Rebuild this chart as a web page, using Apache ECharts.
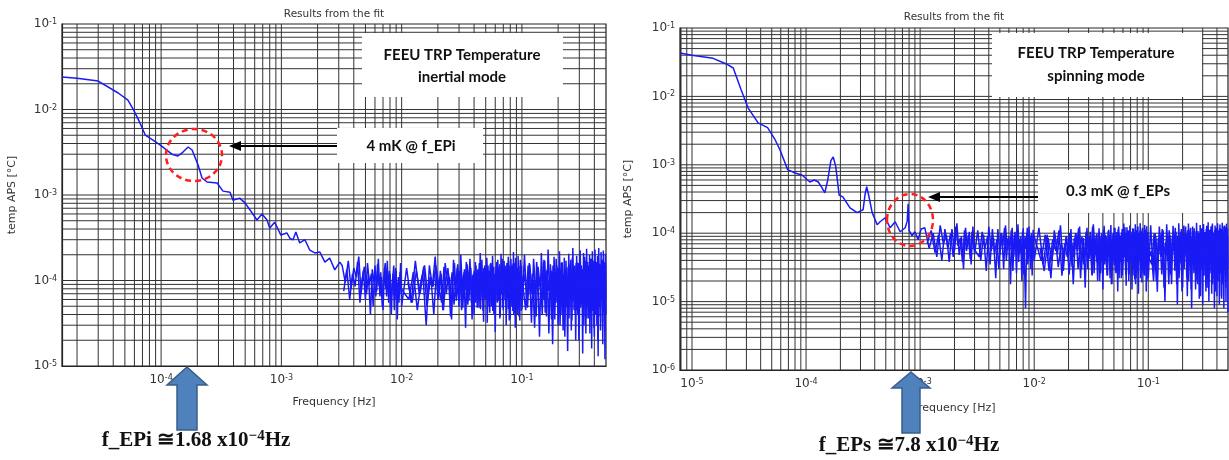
<!DOCTYPE html>
<html>
<head>
<meta charset="utf-8">
<script src="https://cdn.jsdelivr.net/npm/echarts@6/dist/echarts.min.js"></script>
<style>
html, body { margin: 0; padding: 0; background: #fff; }
#main { width: 1229px; height: 460px; }
</style>
</head>
<body>
<div id="main"></div>
<script>
// ---- data ----
// inertial mode: low frequency trend (Hz, degC)
const leftTrendFreq = [1.5e-5, 2.0e-5, 3.0e-5, 4.4e-5, 5.3e-5, 5.9e-5, 6.6e-5, 7.4e-5, 8.5e-5, 9.8e-5,
	1.1e-4, 1.23e-4, 1.38e-4, 1.52e-4, 1.68e-4, 1.81e-4, 2.03e-4, 2.19e-4, 2.41e-4, 2.92e-4,
	3.27e-4, 3.74e-4, 3.96e-4, 4.5e-4, 4.98e-4, 5.7e-4, 6.26e-4, 6.9e-4, 7.6e-4, 8.0e-4,
	8.8e-4, 9.9e-4, 1.11e-3, 1.18e-3, 1.25e-3, 1.32e-3, 1.42e-3, 1.57e-3, 1.72e-3, 1.9e-3,
	2.09e-3, 2.3e-3, 2.52e-3, 2.78e-3, 3.06e-3];
const leftTrendAps = [0.024, 0.0232, 0.0215, 0.0156, 0.0129, 0.0099, 0.0072, 0.0050, 0.0044, 0.00385,
	0.0034, 0.0030, 0.00286, 0.00318, 0.00364, 0.00336, 0.00224, 0.00158, 0.00142, 0.00138,
	0.00111, 0.00108, 0.00087, 0.00092, 0.00081, 0.00062, 0.00051, 0.0006, 0.00051, 0.00041,
	0.00048, 0.00034, 0.00036, 0.00031, 0.0003, 0.00037, 0.000275, 0.0003, 0.000227, 0.00021,
	0.000215, 0.000164, 0.000183, 0.000133, 0.000164];

// spinning mode: low frequency trend (Hz, degC)
const rightTrendFreq = [7.85e-6, 1.0e-5, 1.53e-5, 2.0e-5, 2.3e-5, 2.7e-5, 3.1e-5, 3.8e-5, 4.6e-5, 5.3e-5,
	5.9e-5, 6.9e-5, 8.0e-5, 9.2e-5, 1.08e-4, 1.18e-4, 1.28e-4, 1.38e-4, 1.46e-4, 1.55e-4,
	1.65e-4, 1.73e-4, 1.82e-4, 1.95e-4, 2.1e-4, 2.43e-4, 2.8e-4, 3.16e-4, 3.3e-4, 3.4e-4,
	3.55e-4, 3.8e-4, 4.2e-4, 4.46e-4, 4.93e-4, 5.46e-4, 6.04e-4, 6.68e-4, 7.4e-4, 7.7e-4,
	7.85e-4, 8.0e-4, 8.5e-4, 9.0e-4, 9.6e-4, 1.02e-3];
const rightTrendAps = [0.043, 0.040, 0.036, 0.0298, 0.026, 0.0124, 0.0068, 0.0041, 0.0035, 0.0024,
	0.00166, 0.00085, 0.00076, 0.00071, 0.00056, 0.0006, 0.00056, 0.00046, 0.00039, 0.0006,
	0.00115, 0.0013, 0.00095, 0.00036, 0.00034, 0.000235, 0.0002, 0.00022, 0.00038, 0.00048,
	0.00035, 0.0002, 0.000133, 0.000147, 0.000168, 0.00012, 0.000147, 0.000105, 0.00012, 0.00015,
	0.00027, 0.00011, 0.000092, 0.000105, 0.00008, 0.000115];

// noise floor, frequency in mHz (three interleaved passes)
const noiseFreqMHz = [3.2, 3.4, 3.6, 3.8, 4.0, 4.2, 4.4, 4.6, 4.8, 5.0, 5.2, 5.4, 5.6, 5.8, 6.0, 6.2, 6.4, 6.6, 6.8, 7.0,
	7.2, 7.4, 7.6, 7.8, 8.0, 8.2, 8.4, 8.6, 8.8, 9.0, 9.2, 9.4, 9.6, 9.8, 10,
	11, 12, 13, 14, 15, 16, 17, 18, 19, 20, 21, 22, 23, 24, 25, 26, 27, 28, 29, 30,
	31, 32, 33, 34, 35, 36, 37, 38, 39, 40, 41, 42, 43, 44, 45, 46, 47, 48, 49, 50,
	51, 52, 53, 54, 55, 56, 57, 58, 59, 60, 61, 62, 63, 64, 65, 66, 67, 68, 69, 70,
	71, 72, 73, 74, 75, 76, 77, 78, 79, 80, 81, 82, 83, 84, 85, 86, 87, 88, 89, 90,
	91, 92, 93, 94, 95, 96, 97, 98, 99, 100,
	105, 110, 115, 120, 125, 130, 135, 140, 145, 150, 155, 160, 165, 170, 175, 180, 185, 190, 195, 200,
	205, 210, 215, 220, 225, 230, 235, 240, 245, 250, 255, 260, 265, 270, 275, 280, 285, 290, 295, 300,
	305, 310, 315, 320, 325, 330, 335, 340, 345, 350, 355, 360, 365, 370, 375, 380, 385, 390, 395, 400,
	405, 410, 415, 420, 425, 430, 435, 440, 445, 450, 455, 460, 465, 470, 475, 480, 485, 490, 495, 500];
const noiseFreq2MHz = [3.3, 3.5, 3.7, 3.9, 4.1, 4.3, 4.5, 4.7, 4.9, 5.1, 5.3, 5.5, 5.7, 5.9, 6.1, 6.3, 6.5, 6.7, 6.9, 7.1,
	7.3, 7.5, 7.7, 7.9, 8.1, 8.3, 8.5, 8.7, 8.9, 9.1, 9.3, 9.5, 9.7, 9.9,
	11.5, 12.5, 13.5, 14.5, 15.5, 16.5, 17.5, 18.5, 19.5, 20.5, 21.5, 22.5, 23.5, 24.5, 25.5, 26.5, 27.5, 28.5, 29.5, 30.5,
	31.5, 32.5, 33.5, 34.5, 35.5, 36.5, 37.5, 38.5, 39.5, 40.5, 41.5, 42.5, 43.5, 44.5, 45.5, 46.5, 47.5, 48.5, 49.5, 50.5,
	51.5, 52.5, 53.5, 54.5, 55.5, 56.5, 57.5, 58.5, 59.5, 60.5, 61.5, 62.5, 63.5, 64.5, 65.5, 66.5, 67.5, 68.5, 69.5, 70.5,
	71.5, 72.5, 73.5, 74.5, 75.5, 76.5, 77.5, 78.5, 79.5, 80.5, 81.5, 82.5, 83.5, 84.5, 85.5, 86.5, 87.5, 88.5, 89.5, 90.5,
	91.5, 92.5, 93.5, 94.5, 95.5, 96.5, 97.5, 98.5, 99.5,
	107.5, 112.5, 117.5, 122.5, 127.5, 132.5, 137.5, 142.5, 147.5, 152.5, 157.5, 162.5, 167.5, 172.5, 177.5, 182.5, 187.5, 192.5, 197.5, 202.5,
	207.5, 212.5, 217.5, 222.5, 227.5, 232.5, 237.5, 242.5, 247.5, 252.5, 257.5, 262.5, 267.5, 272.5, 277.5, 282.5, 287.5, 292.5, 297.5, 302.5,
	307.5, 312.5, 317.5, 322.5, 327.5, 332.5, 337.5, 342.5, 347.5, 352.5, 357.5, 362.5, 367.5, 372.5, 377.5, 382.5, 387.5, 392.5, 397.5, 402.5,
	407.5, 412.5, 417.5, 422.5, 427.5, 432.5, 437.5, 442.5, 447.5, 452.5, 457.5, 462.5, 467.5, 472.5, 477.5, 482.5, 487.5, 492.5, 497.5];
const noiseFreq3MHz = [11.25, 12.25, 13.25, 14.25, 15.25, 16.25, 17.25, 18.25, 19.25, 20.25, 21.25, 22.25, 23.25, 24.25, 25.25,
	26.25, 27.25, 28.25, 29.25, 30.25, 31.25, 32.25, 33.25, 34.25, 35.25, 36.25, 37.25, 38.25, 39.25, 40.25,
	41.25, 42.25, 43.25, 44.25, 45.25, 46.25, 47.25, 48.25, 49.25, 50.25, 51.25, 52.25, 53.25, 54.25, 55.25,
	56.25, 57.25, 58.25, 59.25, 60.25, 61.25, 62.25, 63.25, 64.25, 65.25, 66.25, 67.25, 68.25, 69.25, 70.25,
	71.25, 72.25, 73.25, 74.25, 75.25, 76.25, 77.25, 78.25, 79.25, 80.25, 81.25, 82.25, 83.25, 84.25, 85.25,
	86.25, 87.25, 88.25, 89.25, 90.25, 91.25, 92.25, 93.25, 94.25, 95.25, 96.25, 97.25, 98.25, 99.25,
	106.25, 111.25, 116.25, 121.25, 126.25, 131.25, 136.25, 141.25, 146.25, 151.25, 156.25, 161.25, 166.25, 171.25, 176.25,
	181.25, 186.25, 191.25, 196.25, 201.25, 206.25, 211.25, 216.25, 221.25, 226.25, 231.25, 236.25, 241.25, 246.25, 251.25,
	256.25, 261.25, 266.25, 271.25, 276.25, 281.25, 286.25, 291.25, 296.25, 301.25, 306.25, 311.25, 316.25, 321.25, 326.25,
	331.25, 336.25, 341.25, 346.25, 351.25, 356.25, 361.25, 366.25, 371.25, 376.25, 381.25, 386.25, 391.25, 396.25, 401.25,
	406.25, 411.25, 416.25, 421.25, 426.25, 431.25, 436.25, 441.25, 446.25, 451.25, 456.25, 461.25, 466.25, 471.25, 476.25,
	481.25, 486.25, 491.25, 496.25];
const rightLowNoiseFreqMHz = [1.1, 1.2, 1.3, 1.4, 1.5, 1.6, 1.7, 1.8, 1.9, 2.0, 2.1, 2.2, 2.3, 2.4, 2.5, 2.6, 2.7, 2.8, 2.9, 3.0];
const rightLowNoiseFreq2MHz = [1.15, 1.25, 1.35, 1.45, 1.55, 1.65, 1.75, 1.85, 1.95, 2.05, 2.15, 2.25, 2.35, 2.45, 2.55, 2.65, 2.75, 2.85, 2.95];

// noise amplitude in micro degC
const leftNoiseMicro = [150, 95, 170, 80, 140, 110, 190, 70, 130, 60, 160, 90, 120, 50, 150, 75, 180, 65, 110, 45,
	140, 80, 170, 55, 120, 40, 100, 150, 60, 130, 35, 110, 70, 160, 50,
	140, 55, 170, 70, 120, 30, 150, 85, 190, 60, 130, 45, 160, 95, 110, 35, 175, 65, 140, 50,
	200, 75, 125, 28, 155, 90, 180, 55, 115, 40, 165, 70, 135, 48, 210, 80, 120, 33, 150, 60,
	185, 95, 130, 42, 160, 72, 195, 50, 110, 25, 145, 85, 175, 58, 125, 38, 205, 68, 140, 45,
	170, 90, 115, 30, 160, 62, 190, 52, 130, 36, 180, 78, 150, 44, 215, 66, 120, 28, 165, 56,
	140, 40, 195, 74, 125, 34, 175, 60, 150, 46,
	200, 50, 160, 32, 180, 70, 140, 22, 210, 60, 170, 38, 230, 80, 130, 18, 190, 55, 150, 30,
	220, 72, 165, 26, 185, 48, 140, 15, 205, 64, 175, 34, 240, 58, 150, 20, 195, 45, 160, 28,
	225, 70, 135, 14, 210, 52, 170, 24, 235, 62, 150, 36, 200, 42, 180, 16, 220, 56, 145, 22,
	230, 68, 165, 30, 195, 13, 240, 50, 155, 26, 215, 60, 175, 18, 225, 44, 160, 12, 205, 40];
const leftNoise2Micro = [75, 135, 60, 120, 85, 165, 55, 105, 145, 70, 115, 40, 135, 95, 65, 155, 85, 125, 50, 105,
	160, 65, 95, 130, 48, 85, 120, 45, 140, 75, 95, 55, 125, 80,
	60, 125, 45, 100, 150, 65, 110, 40, 135, 80, 55, 145, 70, 120, 38, 100, 160, 58, 95, 130,
	45, 115, 75, 165, 52, 105, 140, 35, 120, 68, 150, 48, 98, 130, 62, 175, 44, 110, 82, 140,
	32, 125, 70, 155, 50, 100, 135, 40, 118, 85, 165, 55, 95, 145, 36, 120, 72, 180, 48, 105,
	130, 60, 150, 42, 112, 88, 170, 34, 125, 66, 140, 50, 100, 158, 40, 118, 76, 185, 46, 110,
	135, 58, 145, 38, 120, 82, 165, 44, 115,
	45, 150, 70, 120, 28, 165, 85, 110, 40, 175, 60, 135, 24, 155, 78, 125, 35, 180, 55, 140,
	30, 160, 68, 118, 22, 170, 50, 145, 82, 115, 26, 185, 58, 130, 40, 160, 72, 120, 20, 175,
	48, 150, 66, 135, 30, 190, 55, 125, 36, 165, 80, 110, 24, 180, 52, 140, 62, 155, 28, 170,
	44, 130, 70, 160, 20, 185, 58, 120, 38, 150, 66, 175, 32, 140, 50, 165, 26, 130, 60];
const leftNoise3Micro = [95, 55, 130, 70, 145, 50, 110, 85, 150, 60, 120, 45, 100, 140, 65, 125, 52, 90, 155, 75,
	105, 48, 135, 80, 115, 58, 148, 68, 98, 130, 55, 122, 88, 160, 46, 108, 72, 140, 62, 118,
	92, 150, 50, 128, 78, 110, 44, 145, 66, 100, 135, 57, 120, 84, 155, 48, 112, 70, 142, 60,
	98, 125, 52, 138, 76, 105, 46, 150, 64, 118, 88, 145, 55, 120, 80, 160, 42, 110, 68, 132,
	58, 115, 90, 148, 50, 125, 74, 140, 62,
	120, 48, 155, 70, 100, 38, 145, 85, 60, 165, 42, 130, 75, 110, 35, 150, 90, 55, 140, 65,
	115, 40, 160, 80, 50, 135, 70, 105, 36, 155, 88, 58, 145, 45, 125, 78, 165, 40, 110, 62,
	150, 52, 95, 130, 38, 160, 72, 115, 48, 140, 66, 105, 34, 155, 84, 125, 44, 170, 60, 118,
	92, 40, 148, 70, 132, 36, 158, 78, 110, 52, 140, 64, 120, 42, 165, 86, 100, 38, 150];
const rightNoiseMicro = [120, 60, 100, 45, 130, 70, 95, 38, 115, 55, 140, 48, 90, 30, 120, 62, 105, 35, 125, 50,
	110, 40, 95, 28, 125, 55, 85, 22, 115, 48, 100, 30, 130, 60, 90, 18, 120, 45, 105, 26,
	135, 52, 88, 20, 118, 42, 8, 98, 35, 125, 50, 95, 24, 112, 40,
	120, 35, 95, 22, 110, 50, 130, 28, 90, 42, 115, 18, 100, 55, 125, 30, 85, 16, 120, 45,
	105, 25, 135, 60, 92, 20, 118, 38, 100, 15, 128, 52, 88, 24, 112, 40, 132, 18, 96, 48,
	120, 26, 104, 14, 125, 58, 90, 22, 115, 36, 138, 44, 98, 17, 122, 50, 108, 25, 130, 40,
	94, 15, 118, 55, 102, 21, 135, 46, 110, 28, 125, 13, 98, 52, 140, 30, 106, 19, 120, 42,
	100, 24, 132, 48, 112, 14, 126, 38, 104, 22,
	130, 30, 100, 14, 125, 45, 110, 10, 135, 40, 95, 18, 128, 52, 105, 9, 140, 36, 115, 16,
	130, 48, 98, 12, 138, 34, 120, 8, 125, 44, 108, 15, 142, 38, 100, 11, 132, 50, 118, 9,
	136, 40, 104, 14, 128, 30, 145, 10, 112, 46, 126, 13, 138, 36, 102, 8, 130, 42, 120, 12,
	140, 35, 110, 9, 134, 48, 116, 11, 142, 30, 106, 8, 130, 40, 124, 10, 138, 28, 118, 7];
const rightNoise2Micro = [70, 110, 52, 95, 40, 115, 60, 100, 45, 125, 65, 85, 38, 110, 55, 95, 42, 105, 60,
	45, 105, 60, 90, 35, 115, 50, 80, 30, 100, 65, 120, 40, 85, 55, 110, 28, 95, 60, 115,
	38, 80, 50, 105, 25, 90, 60, 120, 42, 85, 30, 100, 55, 95,
	40, 95, 28, 80, 55, 110, 24, 70, 45, 100, 32, 85, 60, 118, 22, 75, 42, 105, 30, 90,
	52, 125, 26, 80, 38, 100, 20, 88, 58, 112, 35, 72, 24, 108, 48, 95, 18, 82, 40, 120,
	28, 90, 54, 115, 22, 78, 44, 102, 30, 86, 60, 122, 25, 74, 38, 110, 20, 92, 50, 105,
	32, 80, 24, 116, 46, 98, 18, 84, 42, 125, 26, 88, 56, 108, 22, 76, 40, 112, 30, 94,
	52, 118, 24, 82, 36, 104, 20, 90, 46,
	35, 100, 20, 85, 50, 115, 16, 75, 40, 110, 25, 90, 55, 120, 18, 80, 38, 105, 14, 95,
	48, 125, 22, 78, 34, 112, 15, 88, 52, 118, 28, 70, 20, 108, 44, 98, 12, 84, 36, 122,
	24, 92, 50, 115, 16, 76, 40, 104, 26, 90, 55, 128, 18, 74, 34, 110, 14, 95, 46, 106,
	28, 82, 20, 118, 42, 100, 12, 86, 38, 125, 22, 90, 52, 112, 16, 78, 36, 108, 30];
const rightNoise3Micro = [60, 28, 85, 40, 95, 32, 70, 50, 90, 25, 75, 45, 100, 30, 65, 88, 35, 55, 92, 42,
	68, 24, 82, 50, 98, 36, 72, 26, 88, 58, 40, 95, 30, 66, 85, 22, 78, 46, 100, 34,
	62, 90, 28, 74, 52, 96, 38, 68, 24, 86, 48, 102, 32, 70, 56, 92, 26, 80, 44, 98,
	36, 64, 88, 30, 76, 50, 95, 22, 72, 54, 90, 34, 68, 100, 40, 82, 28, 94, 46, 66,
	26, 86, 52, 98, 32, 74, 58, 92, 38,
	55, 20, 90, 38, 100, 25, 70, 48, 95, 18, 80, 42, 105, 28, 62, 92, 22, 75, 50, 98,
	30, 85, 45, 110, 20, 68, 88, 35, 102, 26, 72, 52, 96, 18, 82, 40, 108, 30, 64, 90,
	24, 78, 46, 100, 34, 92, 16, 70, 58, 112, 28, 86, 40, 96, 22, 74, 54, 104, 32, 80,
	20, 94, 48, 108, 26, 66, 88, 36, 100, 18, 76, 44, 98, 30, 84, 56, 106, 24, 90];

// axis ranges and decades for the log grids
const leftX = [1.5e-5, 0.5], leftY = [1e-5, 1e-1];
const rightX = [7.85e-6, 0.5], rightY = [1e-6, 1e-1];
const decades = [1e-6, 1e-5, 1e-4, 1e-3, 1e-2, 1e-1];
const steps = [1, 2, 3, 4, 5, 6, 7, 8, 9];

function pairs(fs, vs) {
	return fs.map(function (f, i) { return [f, vs[i]]; });
}
function noisePairs(fsMHz, vsMicro) {
	return pairs(fsMHz.map(function (f) { return f / 1000; }), vsMicro.map(function (v) { return v * 1e-6; }));
}
var leftData = pairs(leftTrendFreq, leftTrendAps).concat(noisePairs(noiseFreqMHz, leftNoiseMicro));
var leftData2 = noisePairs(noiseFreq2MHz, leftNoise2Micro);
var leftData3 = noisePairs(noiseFreq3MHz, leftNoise3Micro);
var rightData = pairs(rightTrendFreq, rightTrendAps).concat(noisePairs(rightLowNoiseFreqMHz.concat(noiseFreqMHz), rightNoiseMicro));
var rightData2 = noisePairs(rightLowNoiseFreq2MHz.concat(noiseFreq2MHz), rightNoise2Micro);
var rightData3 = noisePairs(noiseFreq3MHz, rightNoise3Micro);

// 1..9 x decade lines inside a range
function gridVals(range) {
	var out = [];
	decades.forEach(function (d) {
		steps.forEach(function (m) {
			var v = m * d;
			if (v > range[0] * 1.001 && v < range[1] * 0.999) out.push(v);
		});
	});
	return out;
}

function pow10Label(v) {
	var e = Math.log10(v);
	var r = Math.round(e);
	if (Math.abs(e - r) > 1e-6) return "";
	return "{b|10}{s|" + r + "}";
}
var labelRich = {
	b: { fontSize: 12, fontFamily: "DejaVu Sans", color: "#333" },
	s: { fontSize: 8, lineHeight: 6, fontFamily: "DejaVu Sans", color: "#333", verticalAlign: "top" }
};

function xAxis(idx, range, gap) {
	return {
		type: "log", logBase: 10, gridIndex: idx, min: range[0], max: range[1],
		axisLine: { show: true, lineStyle: { color: "#222", width: 1.2 } },
		axisTick: { show: false },
		splitLine: { show: false },
		axisLabel: { formatter: pow10Label, rich: labelRich, margin: 8, showMinLabel: false, showMaxLabel: false },
		name: "Frequency [Hz]", nameLocation: "middle", nameGap: gap,
		nameTextStyle: { fontSize: 11, fontFamily: "DejaVu Sans", color: "#333" }
	};
}
function yAxis(idx, range, gap) {
	return {
		type: "log", logBase: 10, gridIndex: idx, min: range[0], max: range[1],
		axisLine: { show: true, lineStyle: { color: "#222", width: 1.2 } },
		axisTick: { show: false },
		splitLine: { show: false },
		axisLabel: { formatter: pow10Label, rich: labelRich, margin: 5 },
		name: "temp APS [°C]", nameLocation: "middle", nameGap: gap,
		nameTextStyle: { fontSize: 11, fontFamily: "DejaVu Sans", color: "#333" }
	};
}
// full-height / full-width log grid lines, drawn through the axes
function gridSeries(idx, xr, yr) {
	var data = gridVals(xr).map(function (v) { return [v, yr[0], 0]; })
		.concat(gridVals(yr).map(function (v) { return [xr[0], v, 1]; }));
	return {
		type: "custom", xAxisIndex: idx, yAxisIndex: idx, z: 1, silent: true,
		data: data,
		renderItem: function (params, api) {
			var horiz = api.value(2) === 1;
			var a = horiz ? api.coord([xr[0], api.value(1)]) : api.coord([api.value(0), yr[0]]);
			var b = horiz ? api.coord([xr[1], api.value(1)]) : api.coord([api.value(0), yr[1]]);
			return {
				type: "line",
				shape: { x1: a[0], y1: a[1], x2: b[0], y2: b[1] },
				style: { stroke: "#333", lineWidth: 1 }
			};
		}
	};
}
function dataSeries(idx, data) {
	return {
		type: "line", xAxisIndex: idx, yAxisIndex: idx, z: 3,
		data: data, symbol: "none", showSymbol: false,
		lineStyle: { color: "#1a1af5", width: 1.5 }
	};
}

function label(x, y, text, size) {
	return {
		type: "text", x: x, y: y, z: 20,
		style: { text: text, align: "center", verticalAlign: "middle", fontSize: size,
			fontFamily: "DejaVu Sans", fill: "#333" }
	};
}
function boldText(x, y, text) {
	return {
		type: "text", x: x, y: y, z: 20,
		style: { text: text, align: "center", verticalAlign: "middle", fontSize: 15, fontWeight: "bold",
			fontFamily: "Lato", fill: "#111" }
	};
}
function whiteBox(x1, y1, x2, y2) {
	return { type: "rect", z: 10, shape: { x: x1, y: y1, width: x2 - x1, height: y2 - y1 }, style: { fill: "#fff" } };
}
function pointer(xFrom, xTip, y) {
	return [
		{ type: "line", z: 20, shape: { x1: xFrom, y1: y, x2: xTip + 10, y2: y }, style: { stroke: "#000", lineWidth: 2 } },
		{ type: "polygon", z: 20, shape: { points: [[xTip, y], [xTip + 12, y - 5], [xTip + 12, y + 5]] }, style: { fill: "#000" } }
	];
}
function ring(cx, cy, rx, ry) {
	return { type: "ellipse", z: 20, shape: { cx: cx, cy: cy, rx: rx, ry: ry },
		style: { fill: "none", stroke: "#ff1f1f", lineWidth: 2.5, lineDash: [6, 4] } };
}
function blockArrow(cx, tip, base, bottom, hw, bw) {
	return { type: "polygon", z: 20,
		shape: { points: [[cx, tip], [cx + hw, base], [cx + bw, base], [cx + bw, bottom], [cx - bw, bottom], [cx - bw, base], [cx - hw, base]] },
		style: { fill: "#4f81bd", stroke: "#385d8a", lineWidth: 1.5 } };
}
function freqNote(x, y, head) {
	return {
		type: "text", x: x, y: y, z: 20,
		style: {
			text: "{a|" + head + " x10}{s|−4}{a|Hz}", align: "center", verticalAlign: "middle",
			rich: {
				a: { fontSize: 21, lineHeight: 24, fontWeight: "bold", fontFamily: "Liberation Serif", fill: "#111" },
				s: { fontSize: 15, lineHeight: 12, fontWeight: "bold", fontFamily: "Liberation Serif", fill: "#111", verticalAlign: "top" }
			}
		}
	};
}

var myChart = echarts.init(document.getElementById("main"), null, { renderer: "canvas" });
var option = {
	animation: false,
	grid: [
		{ left: 62, top: 24, width: 544, height: 342, show: true, borderColor: "#222", borderWidth: 1.2 },
		{ left: 680, top: 28, width: 548, height: 342, show: true, borderColor: "#222", borderWidth: 1.2 }
	],
	xAxis: [xAxis(0, leftX, 31), xAxis(1, rightX, 33)],
	yAxis: [yAxis(0, leftY, 44), yAxis(1, rightY, 46)],
	series: [
		gridSeries(0, leftX, leftY),
		gridSeries(1, rightX, rightY),
		dataSeries(0, leftData),
		dataSeries(0, leftData2),
		dataSeries(0, leftData3),
		dataSeries(1, rightData),
		dataSeries(1, rightData2),
		dataSeries(1, rightData3)
	],
	graphic: [
		label(334, 14, "Results from the fit", 10.5),
		label(954, 17, "Results from the fit", 10.5),
		whiteBox(362, 33, 563, 97),
		boldText(462, 55, "FEEU TRP Temperature"),
		boldText(462, 77, "inertial mode"),
		whiteBox(337, 128, 483, 163),
		boldText(411, 146, "4 mK @ f_EPi"),
		whiteBox(992, 33, 1202, 97),
		boldText(1096, 53, "FEEU TRP Temperature"),
		boldText(1096, 76, "spinning mode"),
		whiteBox(1038, 170, 1202, 213),
		boldText(1118, 191, "0.3 mK @ f_EPs"),
		ring(194, 155, 28, 26),
		ring(910, 220, 23, 26)
	].concat(pointer(337, 229, 146), pointer(1038, 928, 197), [
		blockArrow(187, 367, 385, 430, 20, 10),
		blockArrow(911, 372, 388, 433, 19, 9),
		freqNote(196, 441, "f_EPi ≅1.68"),
		freqNote(909, 446, "f_EPs ≅7.8")
	])
};
myChart.setOption(option);
window.addEventListener("resize", myChart.resize);
</script>
</body>
</html>
